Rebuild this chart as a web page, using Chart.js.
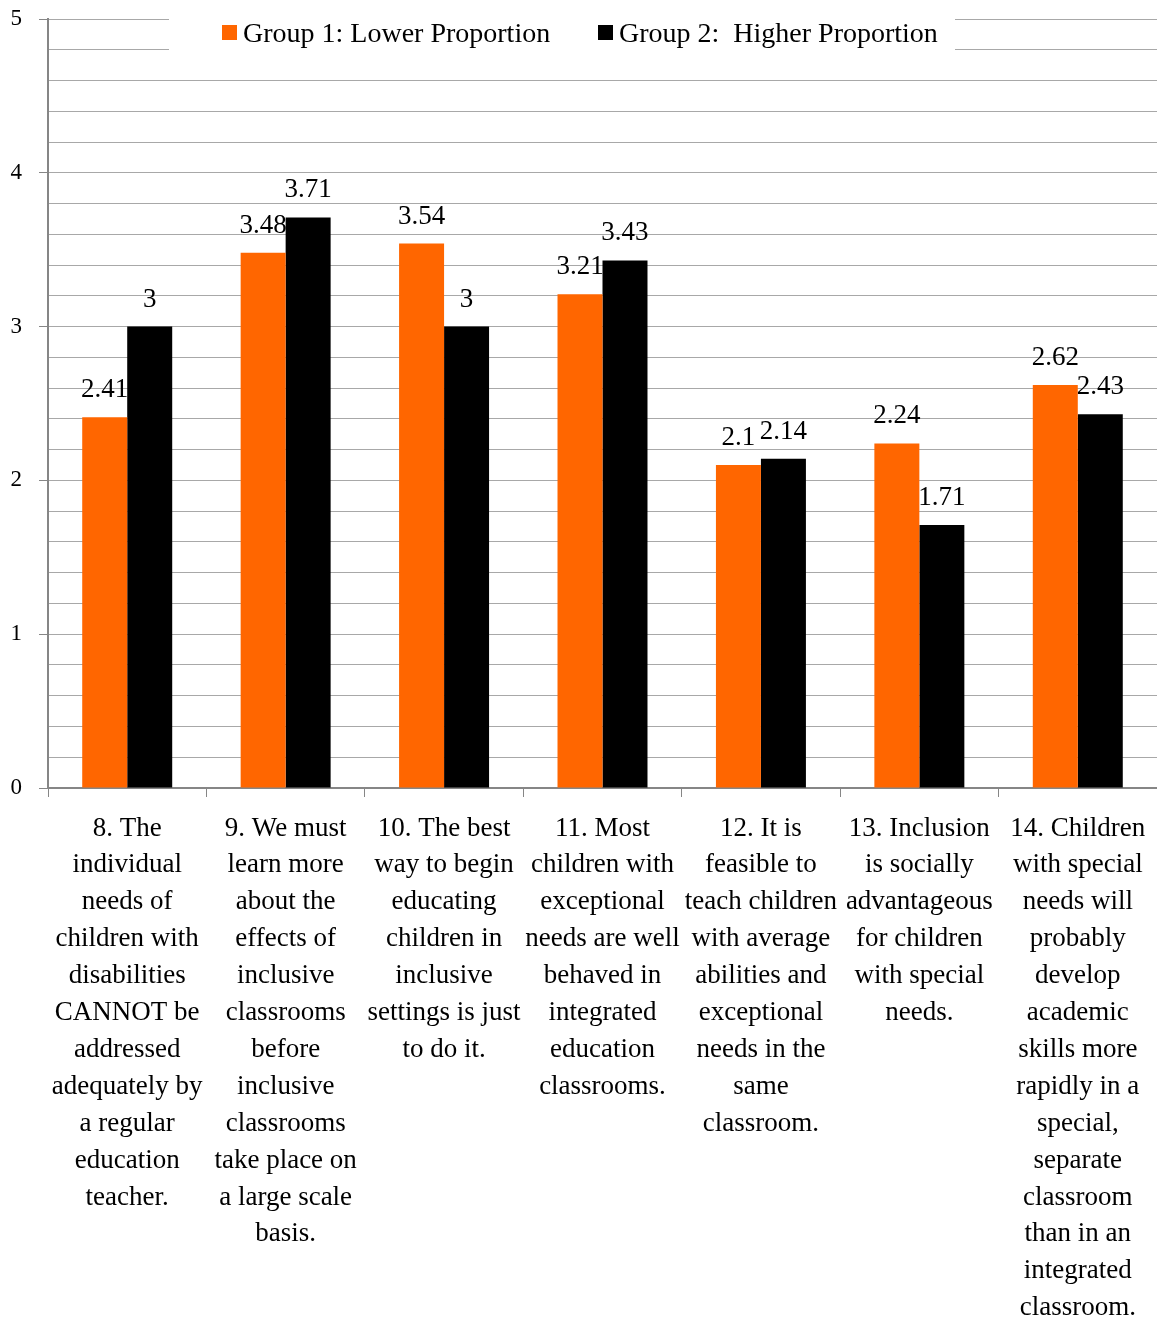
<!DOCTYPE html>
<html>
<head>
<meta charset="utf-8">
<script src="https://cdn.jsdelivr.net/npm/chart.js@4"></script>
<style>
  html, body { margin: 0; padding: 0; background: #ffffff; }
  #wrap { width: 1157px; height: 1321px; position: relative; }
</style>
</head>
<body>
<div id="wrap"><canvas id="chart"></canvas></div>
<script>
// Survey items (multi-line category labels)
const categories = [
  ["8. The", "individual", "needs of", "children with", "disabilities", "CANNOT be", "addressed", "adequately by", "a regular", "education", "teacher."],
  ["9. We must", "learn more", "about the", "effects of", "inclusive", "classrooms", "before", "inclusive", "classrooms", "take place on", "a large scale", "basis."],
  ["10. The best", "way to begin", "educating", "children in", "inclusive", "settings is just", "to do it."],
  ["11. Most", "children with", "exceptional", "needs are well", "behaved in", "integrated", "education", "classrooms."],
  ["12. It is", "feasible to", "teach children", "with average", "abilities and", "exceptional", "needs in the", "same", "classroom."],
  ["13. Inclusion", "is socially", "advantageous", "for children", "with special", "needs."],
  ["14. Children", "with special", "needs will", "probably", "develop", "academic", "skills more", "rapidly in a", "special,", "separate", "classroom", "than in an", "integrated", "classroom."]
];

// Mean scores per group
const seriesNames = ["Group 1: Lower Proportion", "Group 2:  Higher Proportion"];
const group1Values = [2.41, 3.48, 3.54, 3.21, 2.1, 2.24, 2.62];
const group2Values = [3, 3.71, 3, 3.43, 2.14, 1.71, 2.43];

// Y axis range and labelled ticks
const yTickLabels = [0, 1, 2, 3, 4, 5];

const ORANGE = '#FF6600';
const BLACK = '#000000';
const GRID = '#a8a8a8';
const AXIS = '#868686';
const FONT = '"Liberation Serif", Tinos, "Times New Roman", Times, serif';

Chart.defaults.font.family = FONT;
Chart.defaults.color = '#000000';

// Value labels above each bar
const valueLabels = {
  id: 'valueLabels',
  afterDatasetsDraw(chart) {
    const ctx = chart.ctx;
    ctx.save();
    ctx.font = "27px " + FONT;
    ctx.fillStyle = '#000000';
    ctx.textAlign = 'center';
    ctx.textBaseline = 'alphabetic';
    chart.data.datasets.forEach((ds, di) => {
      const meta = chart.getDatasetMeta(di);
      meta.data.forEach((bar, i) => {
        ctx.fillText(String(ds.data[i]), bar.x, bar.y - 20);
      });
    });
    ctx.restore();
  }
};

// Legend box sitting on top of the plot grid
const topLegend = {
  id: 'topLegend',
  beforeDatasetsDraw(chart) {
    const ctx = chart.ctx;
    ctx.save();
    ctx.fillStyle = '#ffffff';
    ctx.fillRect(169, 0, 786, 64);
    ctx.font = "28px " + FONT;
    ctx.textBaseline = 'alphabetic';
    ctx.textAlign = 'left';
    const items = [
      { color: ORANGE, x: 222, text: seriesNames[0] },
      { color: BLACK, x: 598, text: seriesNames[1] }
    ];
    items.forEach(it => {
      ctx.fillStyle = it.color;
      ctx.fillRect(it.x, 25, 15, 15);
      ctx.fillStyle = '#000000';
      ctx.fillText(it.text, it.x + 21, 42);
    });
    ctx.restore();
  }
};

const isWhole = v => Math.abs(v - Math.round(v)) < 1e-6;

new Chart(document.getElementById('chart'), {
  type: 'bar',
  data: {
    labels: categories,
    datasets: [
      { label: seriesNames[0], data: group1Values, backgroundColor: ORANGE, categoryPercentage: 0.568, barPercentage: 1.0 },
      { label: seriesNames[1], data: group2Values, backgroundColor: BLACK, categoryPercentage: 0.568, barPercentage: 1.0 }
    ]
  },
  options: {
    responsive: true,
    maintainAspectRatio: false,
    animation: false,
    layout: { padding: { top: 19, right: 0, left: 0, bottom: 0 } },
    plugins: {
      legend: { display: false },
      tooltip: { enabled: false }
    },
    scales: {
      x: {
        offset: true,
        grid: {
          drawOnChartArea: false,
          drawTicks: true,
          tickLength: 9,
          color: AXIS
        },
        border: { color: AXIS, width: 2 },
        ticks: {
          autoSkip: false,
          maxRotation: 0,
          minRotation: 0,
          padding: 13,
          color: '#000000',
          font: { size: 27, lineHeight: '36.9px' }
        },
        afterFit(scale) {
          scale.height = 533;
          scale.paddingLeft = 0;
          scale.paddingRight = 0;
        }
      },
      y: {
        min: yTickLabels[0],
        max: yTickLabels[yTickLabels.length - 1],
        grid: {
          color: GRID,
          tickLength: 9,
          tickColor: c => (isWhole(c.tick.value) ? AXIS : 'rgba(0,0,0,0)')
        },
        border: { color: AXIS, width: 2 },
        ticks: {
          stepSize: 0.2,
          autoSkip: false,
          padding: 17,
          color: '#000000',
          font: { size: 23 },
          callback: v => (isWhole(v) && yTickLabels.includes(Math.round(v)) ? String(Math.round(v)) : '')
        },
        afterFit(scale) {
          scale.width = 48;
          scale.paddingTop = 0;
          scale.paddingBottom = 0;
        }
      }
    }
  },
  plugins: [topLegend, valueLabels]
});
</script>
</body>
</html>
